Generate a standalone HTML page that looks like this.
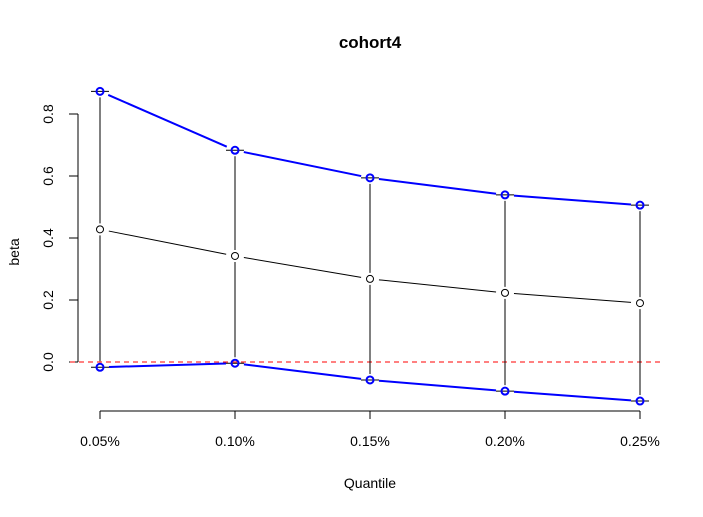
<!DOCTYPE html>
<html><head><meta charset="utf-8"><style>
body{margin:0;background:#fff}
svg text{font-family:"Liberation Sans",Arial,sans-serif;fill:#000}
</style></head><body>
<svg id="chart" width="703" height="512" xmlns="http://www.w3.org/2000/svg">
<rect width="703" height="512" fill="#fff"/>
<text x="370" y="48" font-size="17" font-weight="bold" text-anchor="middle">cohort4</text>
<text x="370" y="488" font-size="14" text-anchor="middle">Quantile</text>
<text transform="translate(19,252) rotate(-90)" font-size="14" text-anchor="middle">beta</text>
<g id="axes"></g><g id="marks"></g>
</svg>
<script>
const categories=["0.05%","0.10%","0.15%","0.20%","0.25%"];
const estimate=[0.428,0.342,0.268,0.223,0.19];
const upper=[0.873,0.683,0.594,0.539,0.506];
const lower=[-0.017,-0.004,-0.058,-0.094,-0.126];
const yTicks=[0,0.2,0.4,0.6,0.8];
const yTickLabels=["0.0","0.2","0.4","0.6","0.8"];
const NS="http://www.w3.org/2000/svg";
const xs=i=>100+i*135;
const ys=v=>362-v*310;
const axes=document.getElementById('axes'),marks=document.getElementById('marks');
function mk(tag,a,p){const e=document.createElementNS(NS,tag);for(const k in a)e.setAttribute(k,a[k]);p.appendChild(e);return e;}
// y axis
let e=mk('line',{x1:78,x2:78,y1:ys(0),y2:ys(0.8),stroke:'#000'},axes);


yTicks.forEach((v,i)=>{
 let t=mk('line',{x1:69,x2:78,y1:ys(v),y2:ys(v),stroke:'#000'},axes);
 
 
 let l=mk('text',{transform:`translate(53,${ys(v)}) rotate(-90)`,'font-size':14,'text-anchor':'middle'},axes);
 l.textContent=yTickLabels[i];
 
 
});
// x axis
e=mk('line',{x1:xs(0),x2:xs(categories.length-1),y1:411,y2:411,stroke:'#000'},axes);


categories.forEach((c,i)=>{
 let t=mk('line',{x1:xs(i),x2:xs(i),y1:411,y2:419,stroke:'#000'},axes);
 
 
 let l=mk('text',{x:xs(i),y:446,'font-size':14,'text-anchor':'middle'},axes);
 l.textContent=c;
 
 
});
// zero reference
e=mk('line',{x1:70,x2:660,y1:ys(0),y2:ys(0),stroke:'#f00','stroke-dasharray':'5,4'},marks);


function seg(x1,y1,x2,y2,g,attrs,name){
 const dx=x2-x1,dy=y2-y1,L=Math.hypot(dx,dy);if(L<2*g+1)return;
 const ux=dx/L,uy=dy/L;
 let s=mk('line',Object.assign({x1:x1+ux*g,y1:y1+uy*g,x2:x2-ux*g,y2:y2-uy*g},attrs),marks);
 
 
}
// error bars with gap around estimate
categories.forEach((c,i)=>{
 const x=xs(i);
 seg(x,ys(upper[i]),x,ys(estimate[i]),6,{stroke:'#000'},'error-bar');
 seg(x,ys(estimate[i]),x,ys(lower[i]),6,{stroke:'#000'},'error-bar');
 [upper[i],lower[i]].forEach(v=>{
  let cap=mk('line',{x1:x-9,x2:x+9,y1:ys(v),y2:ys(v),stroke:'#000'},marks);
  
  
 });
});
function series(vals,color,w,name){
 for(let i=0;i<vals.length-1;i++)seg(xs(i),ys(vals[i]),xs(i+1),ys(vals[i+1]),9,{stroke:color,'stroke-width':w},name+'-line');
 vals.forEach((v,i)=>{
  let p=mk('circle',{cx:xs(i),cy:ys(v),r:3.5,fill:'none',stroke:color,'stroke-width':w},marks);
  
  
 });
}
series(upper,'#0000ff',2,'upper');
series(lower,'#0000ff',2,'lower');
series(estimate,'#000',1,'estimate');
</script>
</body></html>
